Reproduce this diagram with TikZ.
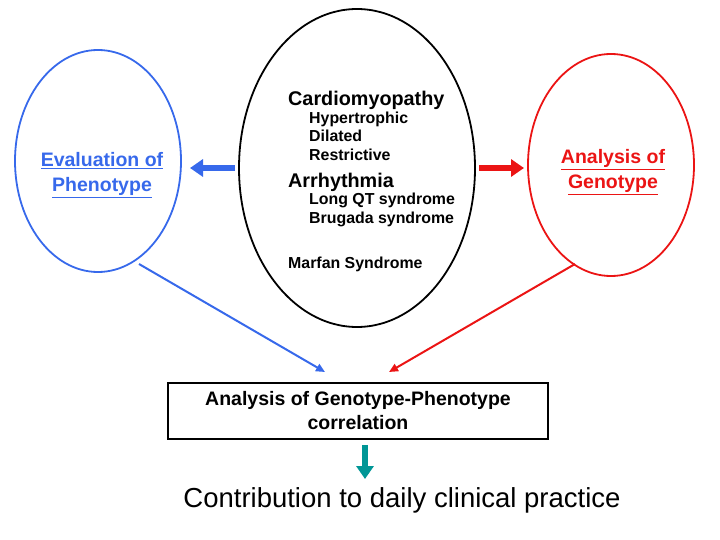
\documentclass[tikz,border=0pt]{standalone}
\usepackage{fontspec}
\setmainfont{Liberation Sans}
\usetikzlibrary{arrows.meta,shapes.geometric}
\definecolor{myblue}{RGB}{55,105,235}
\definecolor{myred}{RGB}{235,20,20}
\definecolor{myteal}{RGB}{0,150,150}
\begin{document}
\begin{tikzpicture}[x=1pt,y=-1pt,
  oval/.style={draw,ellipse,line width=1.8pt,inner sep=0pt},
  fatarrow/.style={line width=6pt,-{Triangle[width=17pt,length=13pt]}},
  thinarrow/.style={line width=2pt,-{Triangle[width=8pt,length=9pt]}},
  txt/.style={font=\bfseries,inner sep=0pt}]
\useasboundingbox (0,0) rectangle (720,540);
\node[oval,myblue,minimum width=166pt,minimum height=222pt] (pheno) at (98,161) {};
\node[oval,black,minimum width=236pt,minimum height=318pt] (center) at (357,168) {};
\node[oval,myred,minimum width=166pt,minimum height=222pt] (geno) at (611,165) {};
% labels
\node[txt,myblue,font=\bfseries\fontsize{19.5}{25}\selectfont,align=center] (phenolabel) at (102,175) {\underline{Evaluation of}\\\underline{Phenotype}};
\node[txt,myred,font=\bfseries\fontsize{19.5}{25}\selectfont,align=center] (genolabel) at (613,172) {\underline{Analysis of}\\\underline{Genotype}};
% center text
\node[txt,anchor=base west,font=\bfseries\fontsize{19.8}{22}\selectfont] (cardio) at (288,106) {Cardiomyopathy};
\node[txt,anchor=base west,font=\bfseries\fontsize{15.9}{18}\selectfont] (hyper) at (309,124) {Hypertrophic};
\node[txt,anchor=base west,font=\bfseries\fontsize{15.9}{18}\selectfont] (dil) at (309,142) {Dilated};
\node[txt,anchor=base west,font=\bfseries\fontsize{15.9}{18}\selectfont] (restr) at (309,161) {Restrictive};
\node[txt,anchor=base west,font=\bfseries\fontsize{19.8}{22}\selectfont] (arr) at (288,188) {Arrhythmia};
\node[txt,anchor=base west,font=\bfseries\fontsize{15.9}{18}\selectfont] (lqt) at (309,205) {Long QT syndrome};
\node[txt,anchor=base west,font=\bfseries\fontsize{15.9}{18}\selectfont] (bru) at (309,224) {Brugada syndrome};
\node[txt,anchor=base west,font=\bfseries\fontsize{15.9}{18}\selectfont] (marfan) at (288,268) {Marfan Syndrome};
% box
\node[draw,line width=1.8pt,minimum width=380pt,minimum height=56pt,align=center,font=\bfseries\fontsize{19.5}{24}\selectfont] (box) at (358,411) {\raisebox{-2pt}{Analysis of Genotype-Phenotype}\\\raisebox{-2pt}{correlation}};
\node[inner sep=0pt,font=\fontsize{27.5}{30}\selectfont] (contrib) at (402,500) {Contribution to daily clinical practice};
% arrows
\coordinate (bl1) at (235,168); \coordinate (bl2) at (190,168);
\coordinate (rd1) at (479,168); \coordinate (rd2) at (524,168);
\draw[fatarrow,myblue] (bl1) -- (bl2);
\draw[fatarrow,myred] (rd1) -- (rd2);
\coordinate (bs) at (139,264); \coordinate (rs) at (575,264);
\coordinate (bt) at (325,372); \coordinate (rt) at (389,372);
\draw[thinarrow,myblue] (bs) -- (bt);
\draw[thinarrow,myred] (rs) -- (rt);
\coordinate (tealend) at (365,479);
\draw[fatarrow,myteal] (box.south -| tealend) ++(0,5) -- (tealend);
\end{tikzpicture}
\end{document}
